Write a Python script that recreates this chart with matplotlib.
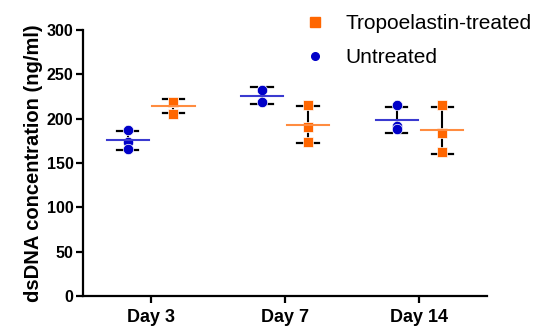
import numpy as np
import matplotlib
matplotlib.use("Agg")
import matplotlib.pyplot as plt
from matplotlib.lines import Line2D

plt.rcParams['font.family'] = ['Liberation Sans', 'DejaVu Sans']

days = ["Day 3", "Day 7", "Day 14"]
untreated = [[187, 174, 166], [233, 219], [216, 192, 188]]
tropo = [[219, 219, 205], [215, 191, 174], [215, 184, 162]]
yticks = [0, 50, 100, 150, 200, 250, 300]

fig = plt.figure(figsize=(5.39, 3.31), dpi=100)
ax = fig.add_axes([0.1546, 0.1057, 0.903 - 0.1546, 0.909 - 0.1057])

c_blue = "#0000C8"
c_orange = "#FF6600"
line_blue = "#3A3AD0"
line_orange = "#FF8C40"

def draw_group(xc, vals, color, lcolor, marker, ms):
    vals = np.array(vals, dtype=float)
    m = vals.mean()
    sd = vals.std(ddof=1)
    ax.plot([xc, xc], [m - sd, m + sd], color="black", lw=1.5, zorder=2)
    for yy in (m + sd, m - sd):
        ax.plot([xc - 0.08, xc - 0.035], [yy, yy], color="black", lw=1.6, zorder=2)
        ax.plot([xc + 0.035, xc + 0.08], [yy, yy], color="black", lw=1.6, zorder=2)
    ax.plot([xc] * len(vals), vals, linestyle="none", marker=marker, ms=ms,
            color=color, mec="white", mew=0.5, zorder=3)
    ax.plot([xc - 0.157, xc + 0.157], [m, m], color=lcolor, lw=1.5, zorder=4)

x = np.arange(len(days))
off = 0.17
for i in range(len(days)):
    draw_group(x[i] - off, untreated[i], c_blue, line_blue, "o", 7.5)
    draw_group(x[i] + off, tropo[i], c_orange, line_orange, "s", 7.3)

ax.set_xlim(-0.5, 2.5)
ax.set_ylim(0, 300)
ax.set_xticks(x)
ax.set_xticklabels(days, fontsize=13, fontweight="bold")
ax.set_yticks(yticks)
ax.set_yticklabels([str(v) for v in yticks], fontsize=11.5, fontweight="bold")
ax.spines["top"].set_visible(False)
ax.spines["right"].set_visible(False)
for s in ["left", "bottom"]:
    ax.spines[s].set_linewidth(1.6)
ax.tick_params(axis="both", width=1.6, length=5, direction="out", pad=2)
ax.tick_params(axis="x", pad=4)
ax.set_ylabel("dsDNA concentration (ng/ml)", fontsize=14.5, fontweight="bold", labelpad=3)

handles = [
    Line2D([], [], linestyle="none", marker="s", ms=6.5, color=c_orange, label="Tropoelastin-treated"),
    Line2D([], [], linestyle="none", marker="o", ms=5.5, color=c_blue, label="Untreated"),
]
fig.legend(handles=handles, loc="upper left", bbox_to_anchor=(0.565, 0.957),
           frameon=False, fontsize=15, handlelength=1.0, handletextpad=0.95,
           labelspacing=0.72, borderpad=0, borderaxespad=0)

fig.savefig("out.png", dpi=100)
